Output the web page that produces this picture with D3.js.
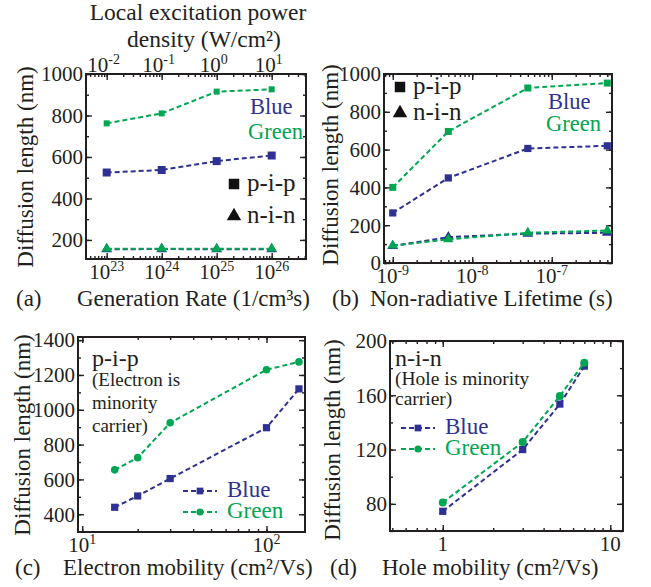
<!DOCTYPE html>
<html>
<head>
<meta charset="utf-8">
<script src="https://cdn.jsdelivr.net/npm/d3@7"></script>
<style>
  body { margin: 0; background: #fff; }
  svg text { font-family: "Liberation Serif", Tinos, "Times New Roman", Times, "DejaVu Serif", serif; fill: #231f20; }
</style>
</head>
<body>
<div id="svg-area"></div>
<script>
//** data

// (a) generation rate
var genRate = [1e23, 1e24, 1e25, 1e26];
var genPipBlue = [525, 537, 580, 607];
var genPipGreen = [762, 810, 915, 926];
var genNinBlue = [155, 156, 155, 155];
var genNinGreen = [158, 158, 157, 158];
var genYTicks = [200, 400, 600, 800, 1000];
var genXTicks = [1e23, 1e24, 1e25, 1e26];
var genXLabels = ["23", "24", "25", "26"];
var powerTicks = [1e-2, 1e-1, 1e0, 1e1];
var powerLabels = ["-2", "-1", "0", "1"];

// (b) non-radiative lifetime
var lifetime = [1e-9, 5e-9, 5e-8, 5e-7];
var lifePipBlue = [265, 450, 606, 620];
var lifePipGreen = [400, 696, 926, 952];
var lifeNinBlue = [90, 137, 155, 160];
var lifeNinGreen = [92, 125, 160, 172];
var lifeYTicks = [0, 200, 400, 600, 800, 1000];
var lifeXTicks = [1e-9, 1e-8, 1e-7];
var lifeXLabels = ["-9", "-8", "-7"];

// (c) electron mobility
var elecMobility = [15, 20, 30, 100, 150];
var elecBlue = [440, 505, 605, 897, 1120];
var elecGreen = [655, 725, 925, 1230, 1275];
var elecYTicks = [400, 600, 800, 1000, 1200, 1400];
var elecXTicks = [10, 100];
var elecXLabels = ["1", "2"];

// (d) hole mobility
var holeMobility = [1, 3, 5, 7];
var holeBlue = [74.5, 120, 153.5, 181.5];
var holeGreen = [81, 125.5, 159.5, 184];
var holeYTicks = [80, 120, 160, 200];
var holeXTicks = [1, 10];
var holeXLabels = ["1", "10"];

var blue = "#2e3192";
var green = "#00a651";
var ink = "#231f20";
var serif = "Liberation Serif";

//svg container
var svgWidth = 651;
var svgHeight = 587;

var svg = d3.select("#svg-area").append("svg")
    .attr("width", svgWidth)
    .attr("height", svgHeight)
    .attr("font-family", serif);

// superscript power label, "10" + small raised exponent
function powLabel(sel, exp) {
    sel.text("10");
    sel.append("tspan").attr("dy", -8).attr("font-size", 14).text(exp);
}

// frame + inward ticks on all four sides
function drawFrame(box, x, y, xMajor, yMajor, yMinor) {
    var g = svg.append("g").attr("transform", `translate(${box.left}, ${box.top})`);
    var w = box.right - box.left;
    var h = box.bottom - box.top;
    var xMinor = x.ticks();

    var tickGroups = [
        [d3.axisBottom(x).tickValues(xMinor).tickSize(-3), `translate(0, ${h})`],
        [d3.axisBottom(x).tickValues(xMajor).tickSize(-6), `translate(0, ${h})`],
        [d3.axisTop(x).tickValues(xMinor).tickSize(-3), "translate(0, 0)"],
        [d3.axisTop(x).tickValues(xMajor).tickSize(-6), "translate(0, 0)"],
        [d3.axisLeft(y).tickValues(yMinor).tickSize(-3), "translate(0, 0)"],
        [d3.axisLeft(y).tickValues(yMajor).tickSize(-6), "translate(0, 0)"],
        [d3.axisRight(y).tickValues(yMinor).tickSize(-3), `translate(${w}, 0)`],
        [d3.axisRight(y).tickValues(yMajor).tickSize(-6), `translate(${w}, 0)`]
    ];
    tickGroups.forEach(function(t) {
        var a = g.append("g")
            .attr("transform", t[1])
            .call(t[0].tickFormat(""));
        a.select(".domain").remove();
        a.selectAll("line").attr("stroke", ink).attr("stroke-width", 1.4);
    });

    g.append("rect")
        .attr("width", w)
        .attr("height", h)
        .attr("fill", "none")
        .attr("stroke", ink)
        .attr("stroke-width", 2);

    // y tick labels
    svg.append("g").selectAll("text")
        .data(yMajor)
        .enter()
        .append("text")
        .attr("x", box.left - 3)
        .attr("y", d => y(d) + box.top)
        .attr("dy", "0.35em")
        .attr("text-anchor", "end")
        .attr("font-size", 21)
        .text(d => d);
    return g;
}

function xLabels(box, x, ticks, labels, sup) {
    svg.append("g").selectAll("text")
        .data(ticks)
        .enter()
        .append("text")
        .attr("x", d => x(d) + box.left)
        .attr("y", box.bottom + 20)
        .attr("text-anchor", "middle")
        .attr("font-size", 21)
        .each(function(d, i) {
            if (sup) powLabel(d3.select(this), labels[i]);
            else d3.select(this).text(labels[i]);
        });
}

function series(g, x, y, xs, ys, color, shape, size) {
    var pts = xs.map((d, i) => [d, ys[i]]);
    g.append("path")
        .datum(pts)
        .attr("fill", "none")
        .attr("stroke", color)
        .attr("stroke-width", 2)
        .attr("stroke-dasharray", "5,3")
        .attr("d", d3.line().x(d => x(d[0])).y(d => y(d[1])));
    g.selectAll(null)
        .data(pts)
        .enter()
        .append("path")
        .attr("transform", d => `translate(${x(d[0])}, ${y(d[1])})`)
        .attr("fill", color)
        .attr("d", d3.symbol(shape, size));
}

function yTitle(x, y) {
    svg.append("text")
        .attr("transform", `translate(${x}, ${y}) rotate(-90)`)
        .attr("text-anchor", "middle")
        .attr("font-size", 23)
        .text("Diffusion length (nm)");
}

function label(x, y, size, str, color) {
    return svg.append("text")
        .attr("x", x)
        .attr("y", y)
        .attr("font-size", size)
        .style("fill", color || ink)
        .text(str);
}

// legend entry: dashed line with marker in the middle
function lineKey(x, y, color, shape, size, str) {
    svg.append("line")
        .attr("x1", x).attr("x2", x + 34)
        .attr("y1", y).attr("y2", y)
        .attr("stroke", color)
        .attr("stroke-width", 2)
        .attr("stroke-dasharray", "5,3");
    svg.append("path")
        .attr("transform", `translate(${x + 17}, ${y})`)
        .attr("fill", color)
        .attr("d", d3.symbol(shape, size));
    label(x + 44, y + 6, 23, str, color);
}

function markKey(x, y, shape, size, str) {
    svg.append("path")
        .attr("transform", `translate(${x}, ${y})`)
        .attr("fill", "#111")
        .attr("d", d3.symbol(shape, size));
    label(x + 13, y + 7, 25, str);
}

//** (a)
var boxA = {left: 86, right: 306, top: 74, bottom: 259};
var xA = d3.scaleLog().domain([Math.pow(10, 22.624), Math.pow(10, 26.624)]).range([0, boxA.right - boxA.left]);
var xTopA = d3.scaleLog().domain([Math.pow(10, -2.376), Math.pow(10, 1.624)]).range([0, boxA.right - boxA.left]);
var yA = d3.scaleLinear().domain([108, 1000]).range([boxA.bottom - boxA.top, 0]);
var gA = drawFrame(boxA, xA, yA, genXTicks, genYTicks, yA.ticks(10));
xLabels(boxA, xA, genXTicks, genXLabels, true);
svg.append("g").selectAll("text")
    .data(powerTicks)
    .enter()
    .append("text")
    .attr("x", d => xTopA(d) + boxA.left - 3)
    .attr("y", boxA.top - 2)
    .attr("text-anchor", "middle")
    .attr("font-size", 21)
    .each(function(d, i) { powLabel(d3.select(this), powerLabels[i]); });
series(gA, xA, yA, genRate, genPipBlue, blue, d3.symbolSquare, 64);
series(gA, xA, yA, genRate, genPipGreen, green, d3.symbolSquare, 36);
series(gA, xA, yA, genRate, genNinBlue, blue, d3.symbolTriangle, 50);
series(gA, xA, yA, genRate, genNinGreen, green, d3.symbolTriangle, 45);
label(250, 114, 22.5, "Blue", blue);
label(248, 139, 22.5, "Green", green);
markKey(234, 184, d3.symbolSquare, 110, "p-i-p");
markKey(234, 216, d3.symbolTriangle, 90, "n-i-n");
yTitle(33, 167);
svg.append("text")
    .attr("x", 198).attr("y", 20)
    .attr("text-anchor", "middle")
    .attr("font-size", 23.5)
    .text("Local excitation power");
svg.append("text")
    .attr("x", 204).attr("y", 47)
    .attr("text-anchor", "middle")
    .attr("font-size", 23.5)
    .text("density (W/cm²)");
label(16, 306, 23, "(a)");
label(77, 306, 23, "Generation Rate (1/cm³s)");

//** (b)
var boxB = {left: 384, right: 612, top: 74, bottom: 263};
var xB = d3.scaleLog().domain([Math.pow(10, -9.11), Math.pow(10, -6.242)]).range([0, boxB.right - boxB.left]);
var yB = d3.scaleLinear().domain([0, 1000]).range([boxB.bottom - boxB.top, 0]);
var gB = drawFrame(boxB, xB, yB, lifeXTicks, lifeYTicks, yB.ticks(10));
xLabels(boxB, xB, lifeXTicks, lifeXLabels, true);
series(gB, xB, yB, lifetime, lifePipBlue, blue, d3.symbolSquare, 52);
series(gB, xB, yB, lifetime, lifePipGreen, green, d3.symbolSquare, 49);
series(gB, xB, yB, lifetime, lifeNinBlue, blue, d3.symbolTriangle, 50);
series(gB, xB, yB, lifetime, lifeNinGreen, green, d3.symbolTriangle, 45);
markKey(400, 87, d3.symbolSquare, 110, "p-i-p");
markKey(400, 113, d3.symbolTriangle, 90, "n-i-n");
label(548, 109, 22.5, "Blue", blue);
label(546, 131, 22.5, "Green", green);
yTitle(338, 165);
label(332, 306, 23, "(b)");
label(370, 306, 23, "Non-radiative Lifetime (s)");

//** (c)
var boxC = {left: 78, right: 305, top: 337, bottom: 532};
var xC = d3.scaleLog().domain([Math.pow(10, 0.977), Math.pow(10, 2.209)]).range([0, boxC.right - boxC.left]);
var yC = d3.scaleLinear().domain([298, 1418]).range([boxC.bottom - boxC.top, 0]);
var gC = drawFrame(boxC, xC, yC, elecXTicks, elecYTicks, yC.ticks(10));
xLabels(boxC, xC, elecXTicks, elecXLabels, true);
series(gC, xC, yC, elecMobility, elecBlue, blue, d3.symbolSquare, 52);
series(gC, xC, yC, elecMobility, elecGreen, green, d3.symbolCircle, 45);
label(92, 366, 24, "p-i-p");
label(92, 386, 19, "(Electron is");
label(92, 409, 19, "minority");
label(92, 432, 19, "carrier)");
lineKey(183, 491, blue, d3.symbolSquare, 45, "Blue");
lineKey(183, 512, green, d3.symbolCircle, 40, "Green");
yTitle(30, 435);
label(15, 575, 23, "(c)");
label(63, 575, 23, "Electron mobility (cm²/Vs)");

//** (d)
var boxD = {left: 390, right: 623, top: 341, bottom: 531};
var xD = d3.scaleLog().domain([Math.pow(10, -0.315), Math.pow(10, 1.076)]).range([0, boxD.right - boxD.left]);
var yD = d3.scaleLinear().domain([60, 200]).range([boxD.bottom - boxD.top, 0]);
var gD = drawFrame(boxD, xD, yD, holeXTicks, holeYTicks, yD.ticks(7));
xLabels(boxD, xD, holeXTicks, holeXLabels, false);
series(gD, xD, yD, holeMobility, holeBlue, blue, d3.symbolSquare, 52);
series(gD, xD, yD, holeMobility, holeGreen, green, d3.symbolCircle, 50);
label(395, 366, 24, "n-i-n");
label(395, 385, 19.5, "(Hole is minority");
label(395, 405, 19.5, "carrier)");
lineKey(401, 428, blue, d3.symbolSquare, 45, "Blue");
lineKey(401, 449, green, d3.symbolCircle, 40, "Green");
yTitle(340, 440);
label(330, 575, 23, "(d)");
label(382, 575, 23, "Hole mobility (cm²/Vs)");
</script>
</body>
</html>
